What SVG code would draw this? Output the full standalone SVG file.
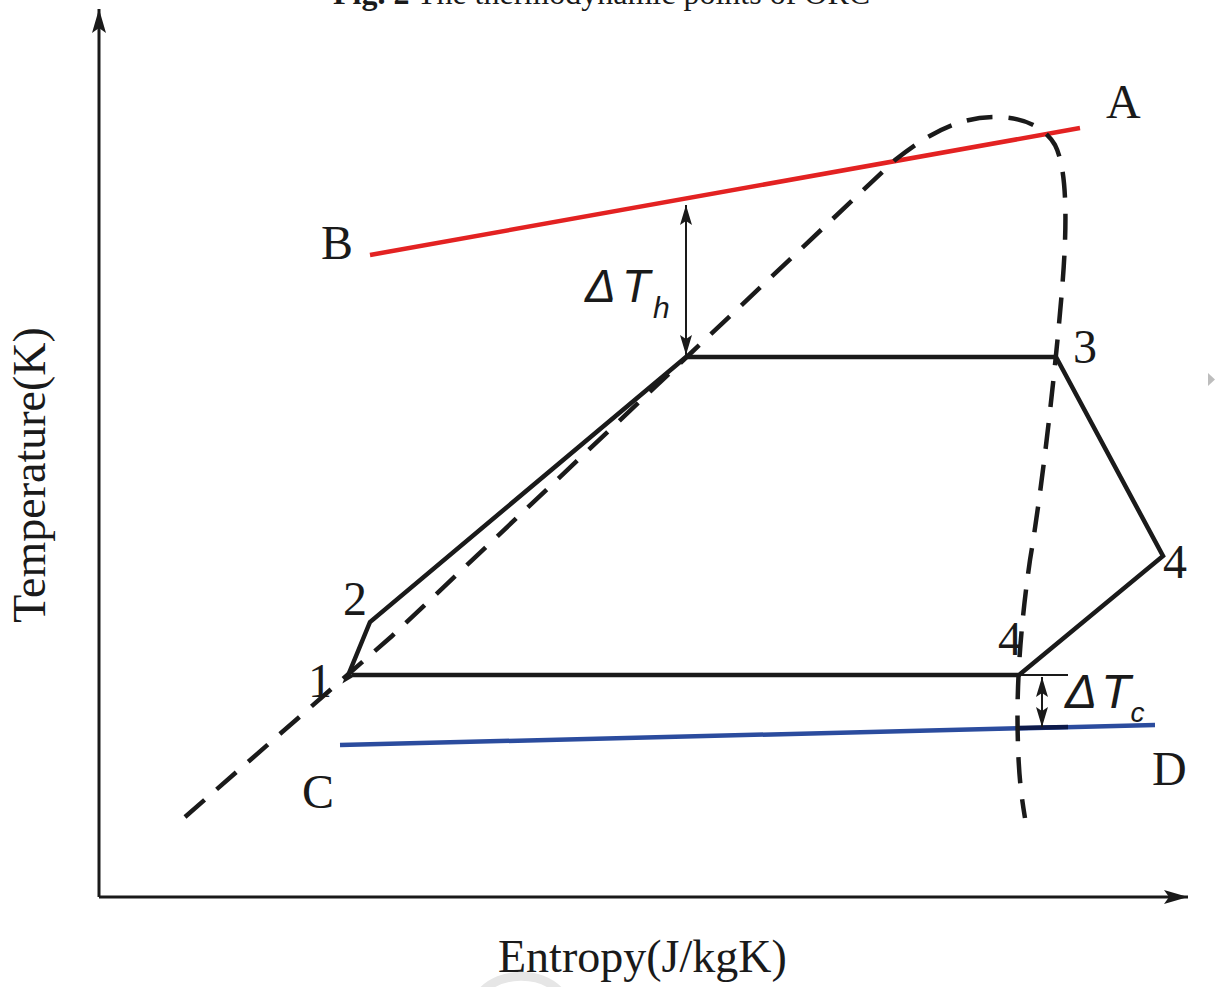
<svg xmlns="http://www.w3.org/2000/svg" width="1216" height="987" viewBox="0 0 1216 987">
<defs>
<style>
.lbl{font-family:"Liberation Serif","Times New Roman",serif;font-size:48px;fill:#1a1a1a}
.ax{font-family:"Liberation Serif","Times New Roman",serif;font-size:46px;fill:#1a1a1a}
.dt{font-family:"Liberation Sans",Arial,sans-serif;font-style:italic;fill:#1a1a1a}
.cyc{fill:none;stroke:#1a1a1a;stroke-width:4.5;stroke-linejoin:miter;stroke-linecap:butt}
.dash{fill:none;stroke:#1a1a1a;stroke-width:4.5;stroke-dasharray:26 16}
.thin{stroke:#1a1a1a;stroke-width:2;fill:none}
</style>
<marker id="ah" viewBox="0 0 20 12" refX="20" refY="6" markerWidth="20" markerHeight="12" markerUnits="userSpaceOnUse" orient="auto-start-reverse">
<path d="M0,0 L20,6 L0,12 L4,6 Z" fill="#1a1a1a"/>
</marker>
<marker id="axh" viewBox="0 0 24 14" refX="24" refY="7" markerWidth="24" markerHeight="14" markerUnits="userSpaceOnUse" orient="auto">
<path d="M0,0 L24,7 L0,14 L5,7 Z" fill="#1a1a1a"/>
</marker>
</defs>
<rect width="1216" height="987" fill="#ffffff"/>
<text x="333" y="4" font-family="'Liberation Serif','Times New Roman',serif" font-size="32" fill="#1a1a1a"><tspan font-weight="bold">Fig. 2</tspan> The thermodynamic points of ORC</text>
<g id="axes">
<line x1="99" y1="897" x2="99" y2="9" stroke="#1a1a1a" stroke-width="3" marker-end="url(#axh)"/>
<line x1="99" y1="897" x2="1188" y2="897" stroke="#1a1a1a" stroke-width="3" marker-end="url(#axh)"/>
<text class="ax" x="498" y="972">Entropy(J/kgK)</text>
<text class="ax" transform="translate(45,475) rotate(-90)" text-anchor="middle">Temperature(K)</text>
</g>
<g id="heat-source">
<line x1="370" y1="255" x2="1080" y2="128" stroke="#e32222" stroke-width="4.5"/>
<text class="lbl" x="1106" y="118">A</text>
<text class="lbl" x="321" y="259">B</text>
</g>
<g id="heat-sink">
<line x1="340" y1="745" x2="1155" y2="725" stroke="#2b4c9e" stroke-width="4.5"/>
<line x1="1017" y1="728" x2="1068" y2="727" stroke="#0d1a4a" stroke-width="4.5"/>
<text class="lbl" x="302" y="808">C</text>
<text class="lbl" x="1152" y="785">D</text>
</g>
<g id="saturation-curve">
<path class="dash" d="M185,817 L392,636 L692,352 L895,160 C935,128 965,117 995,117 C1025,117 1045,128 1055,145 C1068,170 1067,230 1062,290 C1058,340 1045,470 1030,560 C1020,630 1016,690 1018,745 C1019,780 1022,800 1025,818"/>
</g>
<g id="cycle">
<path class="cyc" d="M352,675 L347,678 L370,622 L686,357 L1056,357 L1163,556 L1019,675 L352,675"/>
<line class="thin" x1="1019" y1="675" x2="1068" y2="675"/>
<text class="lbl" x="308" y="697">1</text>
<text class="lbl" x="343" y="615">2</text>
<text class="lbl" x="1073" y="363">3</text>
<text class="lbl" x="1163" y="578">4</text>
<text class="lbl" x="998" y="655" font-size="46">4</text>
</g>
<g id="connectors">
<line x1="686" y1="355" x2="686" y2="205" stroke="#1a1a1a" stroke-width="2" marker-start="url(#ah)" marker-end="url(#ah)"/>
<line x1="1042" y1="727" x2="1042" y2="677" stroke="#1a1a1a" stroke-width="2" marker-start="url(#ah)" marker-end="url(#ah)"/>
</g>
<g id="delta-labels">
<text class="dt" x="585" y="302" font-size="46">Δ<tspan dx="6">T</tspan><tspan dx="3" dy="16" font-size="30">h</tspan></text>
<text class="dt" x="1065" y="708" font-size="48">Δ<tspan dx="4">T</tspan><tspan dx="0" dy="14" font-size="28">c</tspan></text>
</g>
<g id="artifacts">
<path d="M1208,373 L1215,379.5 L1208,386 Z" fill="#bdbdbd"/>
<path d="M482,992 C500,972 540,970 560,992" fill="none" stroke="#e6e6e6" stroke-width="9"/>
</g>
</svg>
